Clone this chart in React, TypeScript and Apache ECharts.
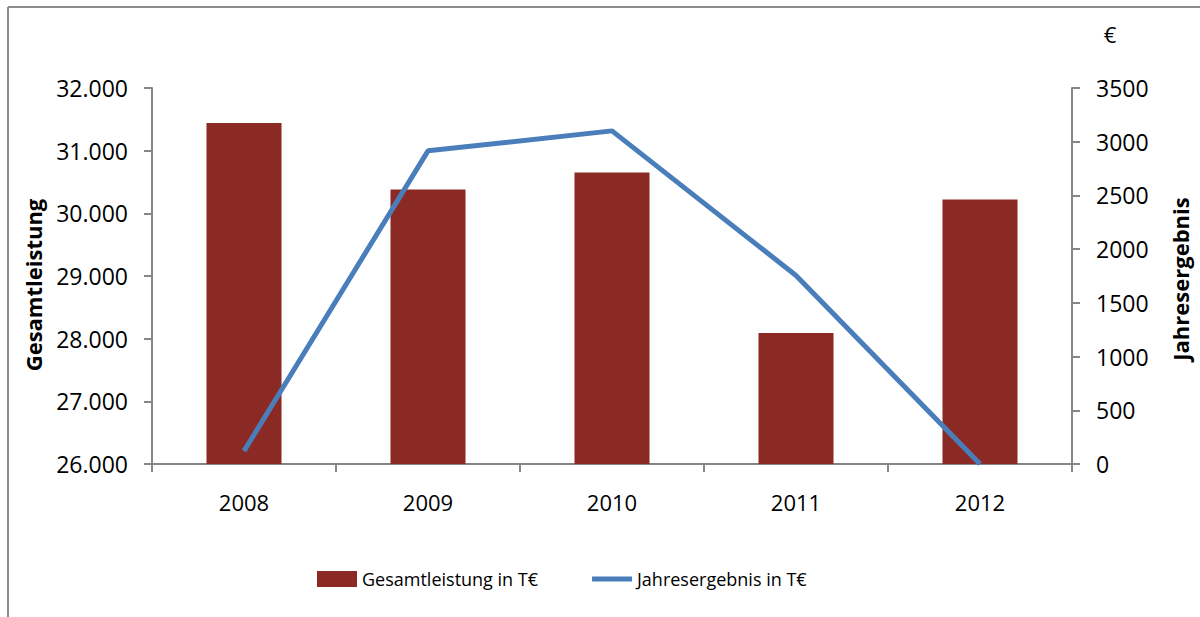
import React, { useEffect, useRef } from "react";
import * as echarts from "echarts";

const years = ["2008", "2009", "2010", "2011", "2012"];
const gesamtleistung = [31440, 30380, 30650, 28090, 30220];
const jahresergebnis = [121, 2915, 3101, 1755, 0];

const FONT = "'Open Sans', 'Liberation Sans', sans-serif";
const AXIS = "#868686";

export default function App() {
  const ref = useRef<HTMLDivElement>(null);
  useEffect(() => {
    if (!ref.current) return;
    const chart = echarts.init(ref.current, undefined, { renderer: "svg" });
    chart.setOption({
      animation: false,
      backgroundColor: "#ffffff",
      textStyle: { fontFamily: FONT, color: "#000" },
      grid: { left: 152, right: 128, top: 88, bottom: 153 },
      legend: {
        left: 317,
        top: 570,
        padding: 0,
        itemWidth: 40,
        itemHeight: 16,
        itemGap: 54,
        symbolKeepAspect: true,
        textStyle: { fontFamily: FONT, fontSize: 18, color: "#000" },
        data: [
          { name: "Gesamtleistung in T€", icon: "rect" },
          {
            name: "Jahresergebnis in T€",
            icon: "path://M0,0L40,0L40,5L0,5Z",
            itemStyle: { color: "#4A7EBB" },
          },
        ],
      },
      xAxis: {
        type: "category",
        data: years,
        axisLine: { lineStyle: { color: AXIS, width: 2 } },
        axisTick: { show: true, length: 8, alignWithLabel: false, lineStyle: { color: AXIS, width: 2 } },
        axisLabel: { fontSize: 22, color: "#000", margin: 27, fontFamily: FONT },
        splitLine: { show: false },
      },
      yAxis: [
        {
          type: "value",
          min: 26000,
          max: 32000,
          interval: 1000,
          position: "left",
          axisLine: { show: true, lineStyle: { color: AXIS, width: 2 } },
          axisTick: { show: true, length: 8, lineStyle: { color: AXIS, width: 2 } },
          axisLabel: {
            fontSize: 23,
            color: "#000",
            margin: 24,
            fontFamily: FONT,
            formatter: (v: number) => v.toLocaleString("de-DE"),
          },
          splitLine: { show: false },
        },
        {
          type: "value",
          min: 0,
          max: 3500,
          interval: 500,
          position: "right",
          axisLine: { show: true, lineStyle: { color: AXIS, width: 2 } },
          axisTick: { show: true, length: 8, lineStyle: { color: AXIS, width: 2 } },
          axisLabel: {
            fontSize: 23,
            color: "#000",
            margin: 24,
            fontFamily: FONT,
            formatter: (v: number) => String(v),
          },
          splitLine: { show: false },
        },
      ],
      series: [
        {
          name: "Gesamtleistung in T€",
          type: "bar",
          yAxisIndex: 0,
          data: gesamtleistung,
          barWidth: 75,
          itemStyle: { color: "#8B2A25" },
        },
        {
          name: "Jahresergebnis in T€",
          type: "line",
          yAxisIndex: 1,
          data: jahresergebnis,
          symbol: "none",
          showSymbol: false,
          lineStyle: { color: "#4A7EBB", width: 5 },
          itemStyle: { color: "#4A7EBB" },
        },
      ],
      graphic: [
        {
          type: "line",
          shape: { x1: 8, y1: 7, x2: 1200, y2: 7 },
          style: { stroke: "#8c8c8c", lineWidth: 2 },
        },
        {
          type: "line",
          shape: { x1: 8, y1: 7, x2: 8, y2: 617 },
          style: { stroke: "#8c8c8c", lineWidth: 2 },
        },
        {
          type: "text",
          x: 33,
          y: 285,
          rotation: Math.PI / 2,
          style: {
            text: "Gesamtleistung",
            fontFamily: FONT,
            fontWeight: "bold",
            fontSize: 22,
            fill: "#000",
            align: "center",
            verticalAlign: "middle",
          },
        },
        {
          type: "text",
          x: 1180,
          y: 279,
          rotation: Math.PI / 2,
          style: {
            text: "Jahresergebnis",
            fontFamily: FONT,
            fontWeight: "bold",
            fontSize: 22,
            fill: "#000",
            align: "center",
            verticalAlign: "middle",
          },
        },
        {
          type: "text",
          x: 1110,
          y: 34,
          style: {
            text: "€",
            fontFamily: FONT,
            fontSize: 22,
            fill: "#000",
            align: "center",
            verticalAlign: "middle",
          },
        },
      ],
    });
    return () => chart.dispose();
  }, []);
  return (
    <div
      ref={ref}
      style={{ position: "fixed", left: 0, top: 0, width: 1200, height: 617, background: "#fff" }}
    />
  );
}
